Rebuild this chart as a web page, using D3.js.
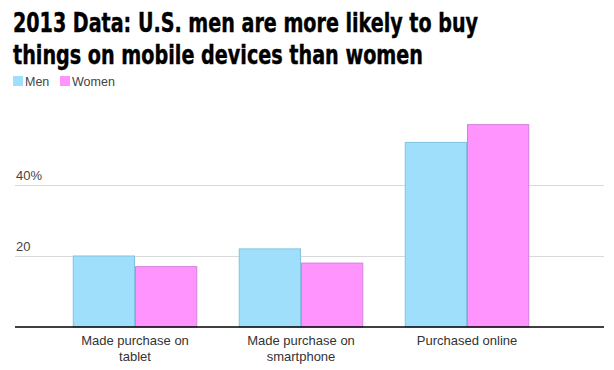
<!DOCTYPE html>
<html>
<head>
<meta charset="utf-8">
<script src="https://d3js.org/d3.v7.min.js"></script>
<style>
  body { margin: 0; background: #fff; }
  svg { display: block; }
</style>
</head>
<body>
<svg id="chart" width="614" height="370"></svg>
<script>
// chart data
var categories = [["Made purchase on", "tablet"], ["Made purchase on", "smartphone"], ["Purchased online"]];
var series = ["Men", "Women"];
var menValues = [20, 22, 52];
var womenValues = [17, 18, 57];
var tickValues = [20, 40];
var tickLabels = ["20", "40%"];

var FILL = ["#a0dffc", "#ff94ff"];
var STROKE = ["#7fc3e3", "#d47fe0"];
var FONT = "Arial, 'Liberation Sans', sans-serif";

var svg = d3.select("#chart");

// title
var title = svg.append("text")
  .attr("x", 13)
  .style("font-family", "'DejaVu Sans Condensed', 'DejaVu Sans', Arial, sans-serif")
  .style("font-weight", "bold")
  .style("font-size", "26px")
  .style("fill", "#000")
  .style("stroke", "#000")
  .style("stroke-width", 0.4);
title.append("tspan").attr("x", 13).attr("y", 32)
  .attr("textLength", 465).attr("lengthAdjust", "spacingAndGlyphs")
  .text("2013 Data: U.S. men are more likely to buy");
title.append("tspan").attr("x", 13).attr("y", 64)
  .attr("textLength", 410).attr("lengthAdjust", "spacingAndGlyphs")
  .text("things on mobile devices than women");

// legend
var legendX = [13, 60];
series.forEach(function(name, i) {
  svg.append("rect")
    .attr("x", legendX[i]).attr("y", 76)
    .attr("width", 10).attr("height", 10)
    .attr("fill", FILL[i]);
  svg.append("text")
    .attr("x", legendX[i] + 12).attr("y", 85.5)
    .style("font-family", FONT)
    .style("font-size", "12.5px")
    .style("fill", "#444")
    .text(name);
});

// scales
var y = d3.scaleLinear().domain([0, 60]).range([326.5, 113.5]);
var x0 = d3.scaleBand()
  .domain(d3.range(categories.length))
  .range([52, 550])
  .paddingInner(0.25)
  .paddingOuter(0.125);
var x1 = d3.scaleBand()
  .domain(series)
  .range([0, x0.bandwidth()]);

// gridlines
svg.append("g").selectAll("line")
  .data(tickValues)
  .enter().append("line")
  .attr("x1", 15).attr("x2", 604)
  .attr("y1", function(d) { return Math.round(y(d)) + 0.5; })
  .attr("y2", function(d) { return Math.round(y(d)) + 0.5; })
  .attr("stroke", "#d9d9d9")
  .attr("stroke-width", 1);

svg.append("g").selectAll("text")
  .data(tickValues)
  .enter().append("text")
  .attr("x", 16)
  .attr("y", function(d) { return y(d) - 5; })
  .style("font-family", FONT)
  .style("font-size", "13px")
  .style("fill", "#444")
  .text(function(d, i) { return tickLabels[i]; });

// bars
var groups = svg.append("g").selectAll("g")
  .data(categories.map(function(c, i) { return [menValues[i], womenValues[i]]; }))
  .enter().append("g")
  .attr("transform", function(d, i) { return "translate(" + x0(i) + ",0)"; });

groups.selectAll("rect")
  .data(function(d) { return d; })
  .enter().append("rect")
  .attr("x", function(d, i) { return x1(series[i]) + 0.5; })
  .attr("y", function(d) { return y(d) + 0.5; })
  .attr("width", x1.bandwidth() - 1)
  .attr("height", function(d) { return y(0) - y(d); })
  .attr("fill", function(d, i) { return FILL[i]; })
  .attr("stroke", function(d, i) { return STROKE[i]; })
  .attr("stroke-width", 1);

// baseline
svg.append("line")
  .attr("x1", 15).attr("x2", 604)
  .attr("y1", 327).attr("y2", 327)
  .attr("stroke", "#000")
  .attr("stroke-width", 1.5);

// category labels
svg.append("g").selectAll("text")
  .data(categories)
  .enter().append("text")
  .attr("text-anchor", "middle")
  .style("font-family", FONT)
  .style("font-size", "13px")
  .style("fill", "#333")
  .each(function(d, i) {
    var t = d3.select(this);
    d.forEach(function(line, j) {
      t.append("tspan")
        .attr("x", x0(i) + x0.bandwidth() / 2)
        .attr("y", 345 + j * 16)
        .text(line);
    });
  });
</script>
</body>
</html>
